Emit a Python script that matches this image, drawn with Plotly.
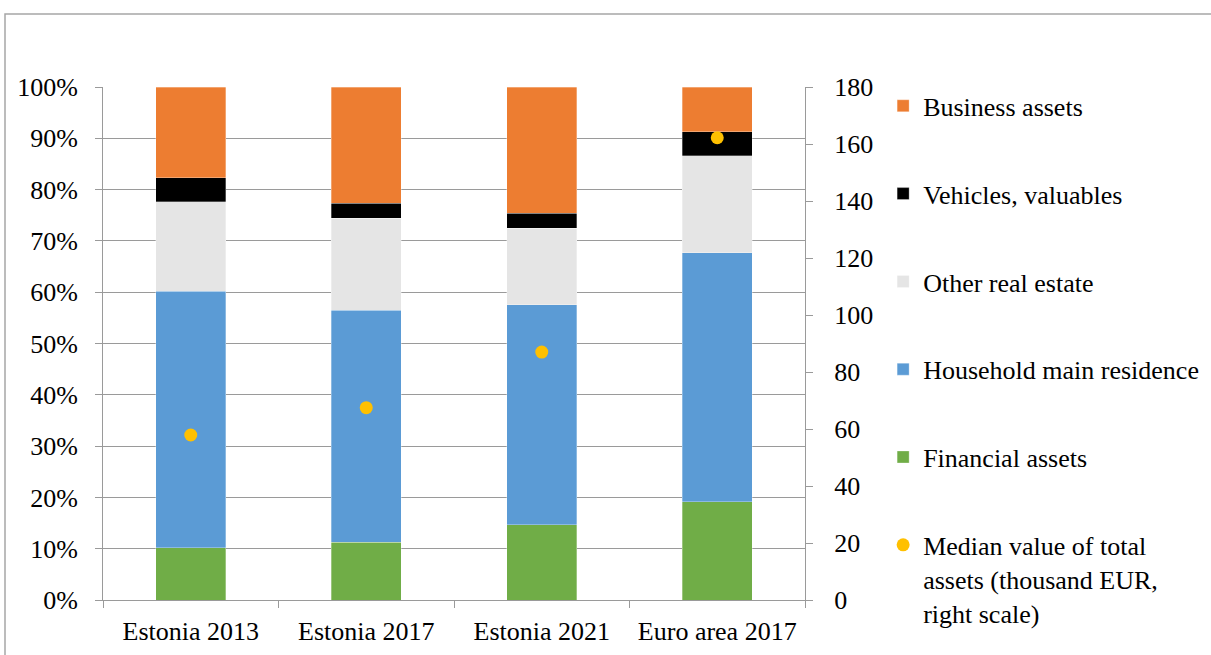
import plotly.graph_objects as go

categories = ["Estonia 2013", "Estonia 2017", "Estonia 2021", "Euro area 2017"]
financial = [10.2, 11.3, 14.7, 19.2]
main_residence = [50.0, 45.2, 42.9, 48.5]
other_real_estate = [17.4, 17.9, 14.9, 18.9]
vehicles = [4.7, 2.9, 2.9, 4.7]
business = [17.7, 22.7, 24.6, 8.7]
median_assets = [57.9, 67.5, 87.0, 162.2]

FONT = "Liberation Serif"
FS = 26
AX = "#9a9a9a"

series = [
    ("Financial assets", financial, "#70AD47", 5),
    ("Household main residence", main_residence, "#5B9BD5", 4),
    ("Other real estate", other_real_estate, "#E5E5E5", 3),
    ("Vehicles, valuables", vehicles, "#000000", 2),
    ("Business assets", business, "#ED7D31", 1),
]

fig = go.Figure()
for name, vals, col, rank in series:
    fig.add_trace(go.Bar(
        x=categories, y=vals, name=name, width=0.4,
        marker=dict(color=col, line=dict(color="rgba(255,255,255,0.6)", width=0.5)),
        legendgroup=name, legendrank=rank,
    ))
fig.add_trace(go.Scatter(
    x=categories, y=median_assets, yaxis="y2", mode="markers",
    name="Median value of total<br>assets (thousand EUR,<br>right scale)",
    marker=dict(color="#FFC000", size=13),
    legendgroup="median", legendrank=6,
))

fig.update_layout(
    width=1211, height=655,
    margin=dict(l=103, r=406, t=87, b=55, autoexpand=False),
    paper_bgcolor="white", plot_bgcolor="white",
    barmode="stack",
    font=dict(family=FONT, size=FS, color="black"),
    showlegend=True,
    legend=dict(
        x=1.1113, xanchor="left", y=1.009, yanchor="top",
        traceorder="grouped", tracegroupgap=51, valign="top",
        maxheight=650,
        font=dict(family=FONT, size=FS, color="black"),
        bgcolor="rgba(0,0,0,0)",
    ),
    xaxis=dict(
        range=[-0.5, 3.5], type="category", tickson="boundaries",
        ticks="outside", ticklen=7, tickcolor=AX, showline=True, linecolor=AX,
        linewidth=1, showgrid=False, ticklabelstandoff=8,
        tickfont=dict(family=FONT, size=FS),
    ),
    yaxis=dict(
        range=[0, 100], dtick=10, ticksuffix="%", ticks="outside", ticklen=7,
        tickcolor=AX, showline=True, linecolor=AX, linewidth=1,
        showgrid=True, gridcolor=AX, gridwidth=1.2, zeroline=False,
        ticklabelstandoff=12, tickfont=dict(family=FONT, size=FS),
    ),
    yaxis2=dict(
        range=[0, 180], dtick=20, overlaying="y", side="right",
        ticks="outside", ticklen=7, tickcolor=AX, showline=True, linecolor=AX,
        linewidth=1, showgrid=False, zeroline=False, ticklabelstandoff=16,
        tickfont=dict(family=FONT, size=FS),
    ),
    shapes=[dict(
        type="rect", xref="paper", yref="paper",
        x0=(5 - 103) / 702, x1=(1230 - 103) / 702,
        y0=(600 - 680) / 513, y1=(600 - 14) / 513,
        line=dict(color="#a6a6a6", width=1.5), fillcolor="rgba(0,0,0,0)",
        layer="below",
    )],
)

fig.write_html("out.html")
